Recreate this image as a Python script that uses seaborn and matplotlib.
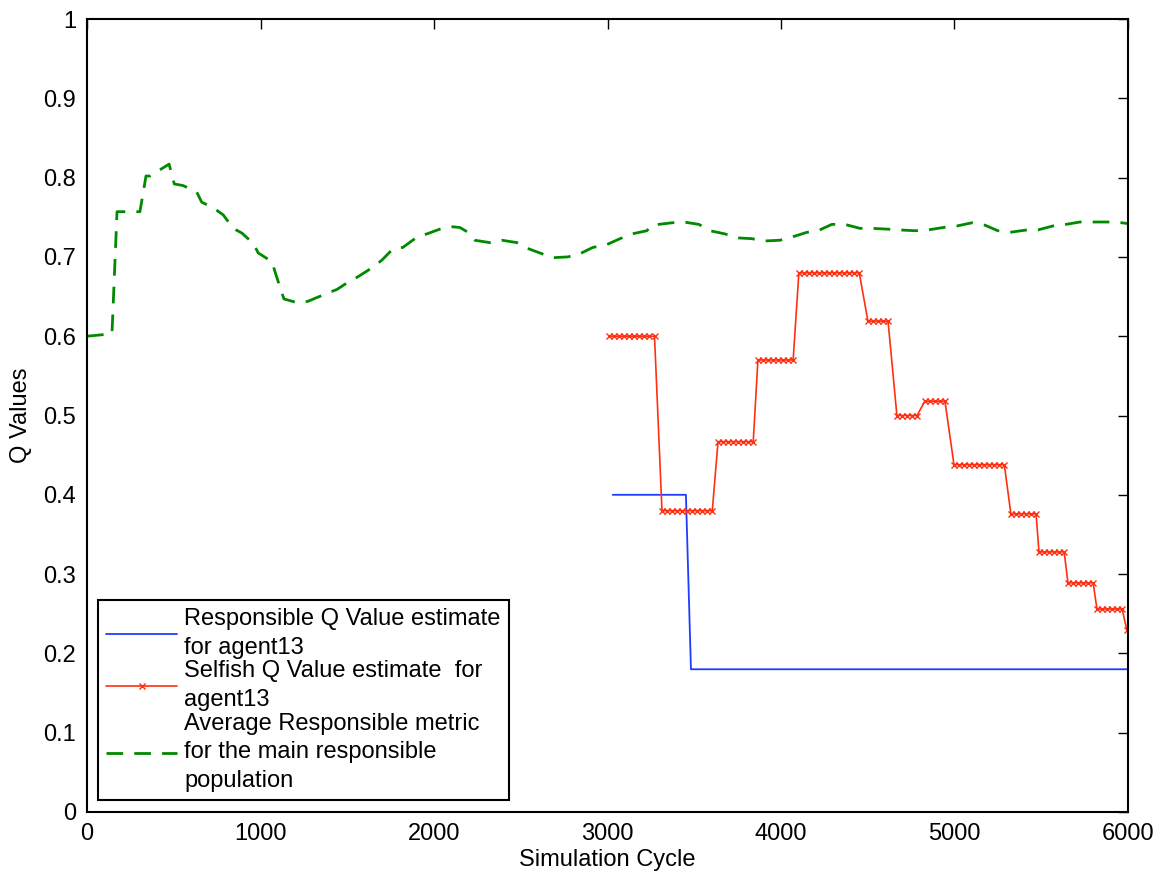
import numpy as np
import pandas as pd
import matplotlib
matplotlib.use("Agg")
import matplotlib.pyplot as plt
import seaborn as sns

# ---- data ----
green_x = [0, 144, 173, 305, 340, 363, 473, 503, 553, 632, 661, 727, 785, 843, 893,
           958, 987, 1066, 1084, 1112, 1135, 1216, 1273, 1372, 1441, 1504, 1562, 1648,
           1700, 1763, 1821, 1902, 1959, 2046, 2109, 2150, 2196, 2236, 2322, 2392, 2478,
           2536, 2622, 2686, 2772, 2841, 2916, 2991, 3072, 3141, 3227, 3256, 3371, 3441,
           3527, 3591, 3677, 3746, 3832, 3896, 3994, 4063, 4149, 4213, 4293, 4368, 4455,
           4524, 4616, 4685, 4772, 4847, 4933, 5014, 5100, 5175, 5250, 5319, 5417, 5481,
           5567, 5642, 5723, 5803, 5884, 5965, 6000]
green_y = [0.600, 0.603, 0.757, 0.757, 0.802, 0.802, 0.817, 0.792, 0.790, 0.782, 0.769,
           0.762, 0.753, 0.736, 0.730, 0.717, 0.705, 0.694, 0.681, 0.662, 0.647, 0.642,
           0.644, 0.653, 0.659, 0.668, 0.675, 0.687, 0.696, 0.710, 0.712, 0.725, 0.729,
           0.736, 0.738, 0.737, 0.731, 0.721, 0.718, 0.721, 0.718, 0.711, 0.704, 0.699,
           0.700, 0.704, 0.712, 0.715, 0.723, 0.729, 0.733, 0.740, 0.743, 0.744, 0.741,
           0.733, 0.729, 0.724, 0.723, 0.720, 0.721, 0.725, 0.731, 0.733, 0.741, 0.741,
           0.736, 0.736, 0.735, 0.734, 0.733, 0.734, 0.737, 0.739, 0.743, 0.740, 0.733,
           0.731, 0.734, 0.734, 0.739, 0.741, 0.744, 0.744, 0.744, 0.743, 0.742]

blue_x = [3030, 3452, 3481, 6000]
blue_y = [0.400, 0.400, 0.180, 0.180]

red_step_start = [3010, 3314, 3637, 3867, 4103, 4501, 4668, 4829, 4997, 5325, 5487, 5654, 5821, 5994]
red_step_end = [3291, 3619, 3855, 4086, 4478, 4645, 4812, 4973, 5308, 5475, 5637, 5803, 5970, 6000]
red_step_level = [0.600, 0.380, 0.467, 0.570, 0.680, 0.619, 0.500, 0.518, 0.438, 0.376,
                  0.328, 0.289, 0.256, 0.229]
red_sample_every = 29

legend_labels = ["Responsible Q Value estimate\nfor agent13",
                 "Selfish Q Value estimate  for\nagent13",
                 "Average Responsible metric\nfor the main responsible\npopulation"]
x_ticks = [0, 1000, 2000, 3000, 4000, 5000, 6000]
y_ticks = [0, 0.1, 0.2, 0.3, 0.4, 0.5, 0.6, 0.7, 0.8, 0.9, 1]
y_tick_labels = ["0", "0.1", "0.2", "0.3", "0.4", "0.5", "0.6", "0.7", "0.8", "0.9", "1"]

# expand the red step levels to the sampled (marker) points
red_x, red_y = [], []
for s, e, v in zip(red_step_start, red_step_end, red_step_level):
    xs = list(range(s, e + 1, red_sample_every))
    red_x += xs
    red_y += [v] * len(xs)

sns.set_style("white")
plt.rcParams['font.family'] = ['Liberation Sans', 'DejaVu Sans']
plt.rcParams['text.color'] = 'black'
plt.rcParams['axes.labelcolor'] = 'black'
plt.rcParams['xtick.color'] = 'black'
plt.rcParams['ytick.color'] = 'black'

FS = 17
fig = plt.figure(figsize=(11.61, 8.75), dpi=100)
ax = fig.add_axes([87 / 1161, 63 / 875, 1041 / 1161, 793 / 875])

red_c = '#ff2f12'
sns.lineplot(x=blue_x, y=blue_y, ax=ax, color='#1f3dff', lw=1.3,
             estimator=None, sort=False, label=legend_labels[0])
sns.lineplot(x=red_x, y=red_y, ax=ax, color=red_c, lw=1.2, marker='x',
             markersize=4.5, markeredgewidth=1.0, markeredgecolor=red_c,
             markerfacecolor=red_c, estimator=None, sort=False,
             label=legend_labels[1])
sns.lineplot(x=green_x, y=green_y, ax=ax, color='#008a00', lw=2.0,
             linestyle=(0, (6, 4)), estimator=None, sort=False,
             label=legend_labels[2])

ax.set_xlim(0, 6000)
ax.set_ylim(0, 1)
ax.set_xticks(x_ticks)
ax.set_xticklabels([str(t) for t in x_ticks])
ax.set_yticks(y_ticks)
ax.set_yticklabels(y_tick_labels)
ax.tick_params(direction='in', length=7, width=1.0, top=True, right=True,
               labelsize=FS, pad=8, colors='black')
for sp in ax.spines.values():
    sp.set_visible(True)
    sp.set_color('black')
    sp.set_linewidth(1.5)

ax.set_xlabel("Simulation Cycle", fontsize=FS, labelpad=3)
ax.set_ylabel("Q Values", fontsize=FS, labelpad=8)

leg = ax.legend(loc='lower left', bbox_to_anchor=(0.0106, 0.0151), borderaxespad=0,
                fontsize=FS, frameon=True, fancybox=False, edgecolor='black',
                framealpha=1, handlelength=3.0, handletextpad=0.3, labelspacing=0.08,
                borderpad=0.35, numpoints=1)
for t in leg.get_texts():
    t.set_linespacing(1.38)
leg.get_frame().set_linewidth(1.5)

fig.savefig("out.png", dpi=100)
